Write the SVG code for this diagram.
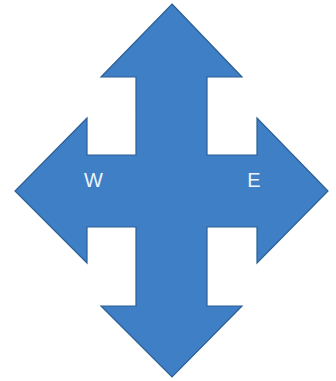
<svg xmlns="http://www.w3.org/2000/svg" width="336" height="381" viewBox="0 0 336 381">
<style>
.arrow{fill:#3f7fc6;stroke:#2b5f95;stroke-width:1.2;stroke-linejoin:miter}
.lbl{font-family:"Liberation Sans",Arial,sans-serif;font-size:20px;fill:#eef4fb;text-anchor:middle}
</style>
<rect width="336" height="381" fill="#ffffff"/>
<g id="compass-arrow">
<polygon class="arrow" points="172,4 242,77 207,77 207,155 257,155 257,118 328,191 257,263 257,227 207,227 207,306 242,306 172,377 101,306 136,306 136,227 87,227 87,263 15,191 87,118 87,155 136,155 136,77 101,77"/>
</g>
<g id="label-w"><text class="lbl" x="93.5" y="187">W</text></g>
<g id="label-e"><text class="lbl" x="254" y="187">E</text></g>
</svg>
